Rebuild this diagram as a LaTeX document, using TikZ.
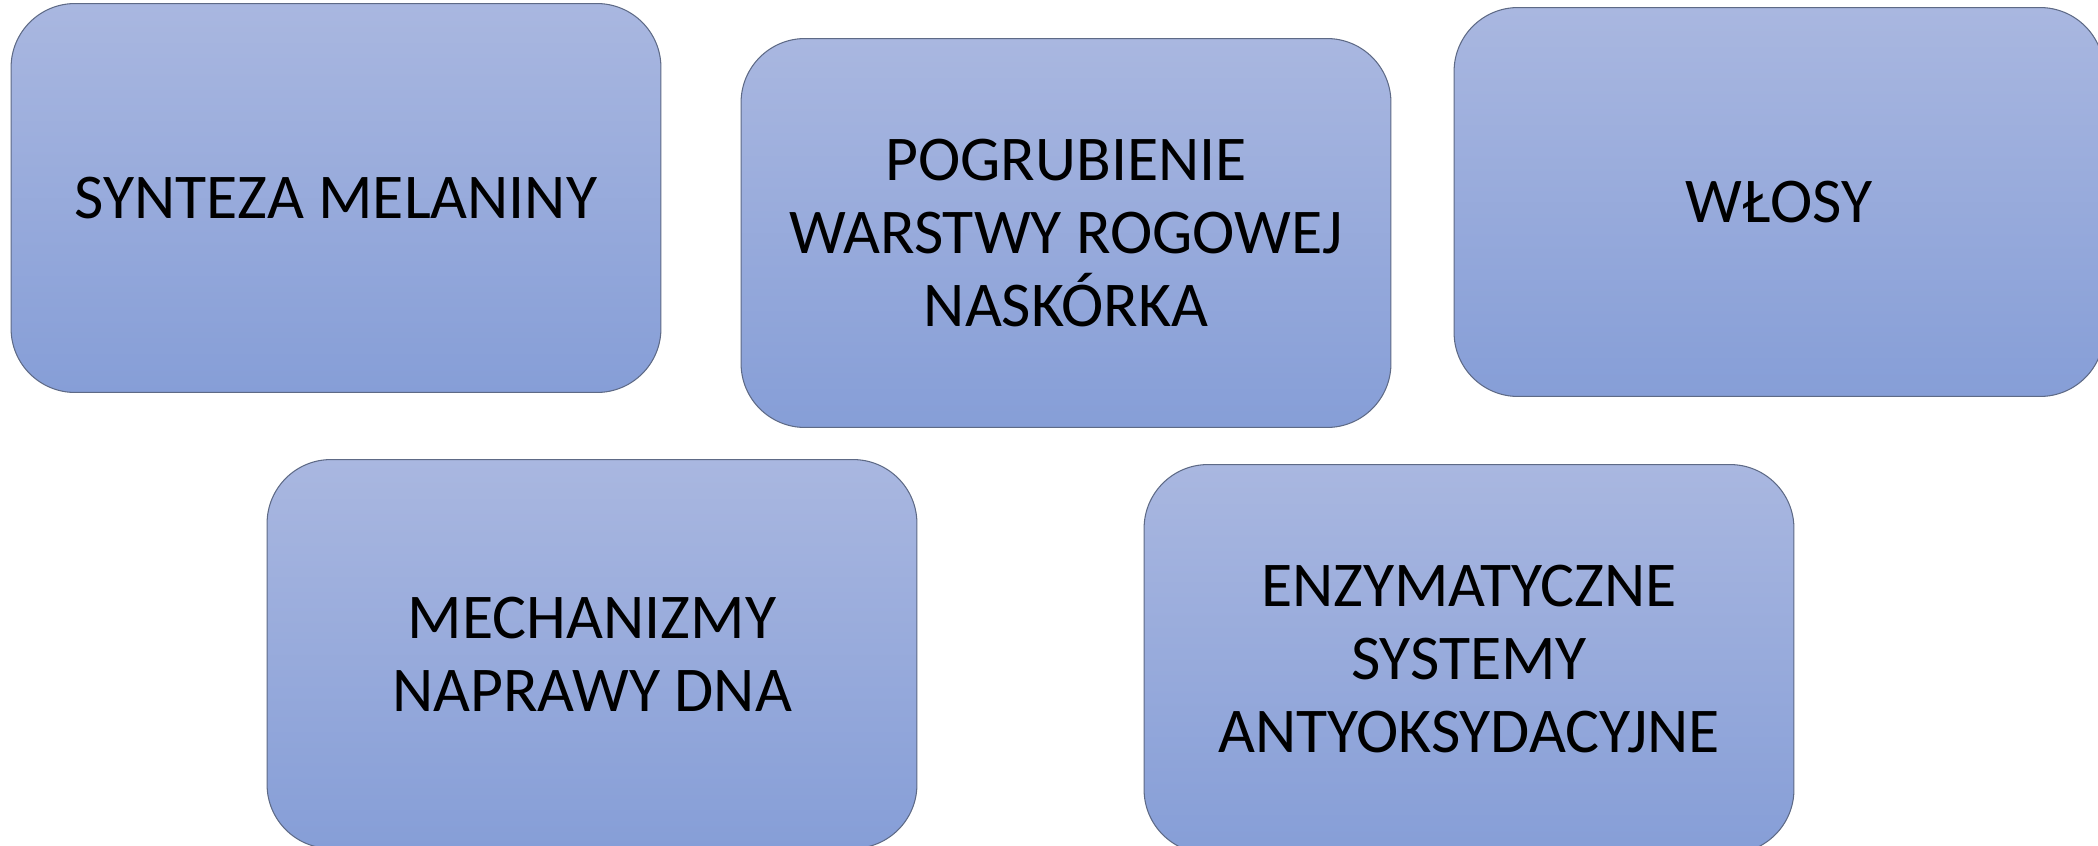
\documentclass[tikz,border=0pt]{standalone}
\usepackage{fontspec}
\setmainfont{Carlito}
\definecolor{boxTop}{HTML}{A9B7E0}
\definecolor{boxBottom}{HTML}{869ED7}
\definecolor{boxBorder}{HTML}{5E6A86}
\tikzset{
  blok/.style={draw=boxBorder, line width=0.6pt, rounded corners=1.28cm,
    top color=boxTop, bottom color=boxBottom,
    minimum width=13cm, minimum height=7.78cm, align=center,
    font=\fontsize{36.3}{41.5}\selectfont}
}
\begin{document}
\begin{tikzpicture}[x=0.02cm, y=-0.02cm]
      \useasboundingbox (0,0) rectangle (2098,845);
      \clip (0,0) rectangle (2098,845);
      % top row
      \node[blok] (synteza) at (336,198) {SYNTEZA MELANINY};
      \node[blok] (pogrubienie) at (1066,233) {POGRUBIENIE\\WARSTWY ROGOWEJ\\NASKÓRKA};
      \node[blok] (wlosy) at (1779,202) {WŁOSY};
      % bottom row
      \node[blok] (naprawa) at (592,654) {MECHANIZMY\\NAPRAWY DNA};
      \node[blok] (enzymy) at (1469,659) {ENZYMATYCZNE\\SYSTEMY\\ANTYOKSYDACYJNE};
\end{tikzpicture}
\end{document}
